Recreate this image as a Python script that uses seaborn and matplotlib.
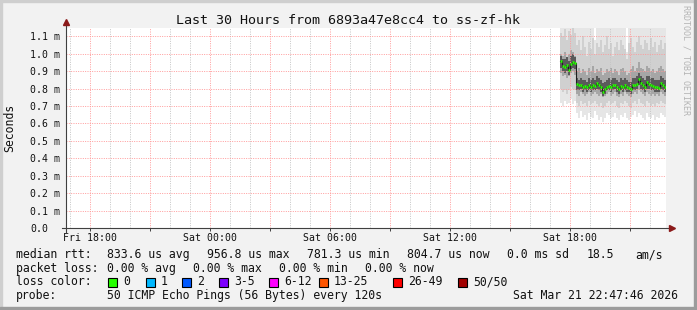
import numpy as np
import pandas as pd
import matplotlib
matplotlib.use("Agg")
import matplotlib.pyplot as plt
import seaborn as sns
from matplotlib.patches import Rectangle
from matplotlib.ticker import FixedLocator, MultipleLocator

# ---------------- data ----------------
title = "Last 30 Hours from 6893a47e8cc4 to ss-zf-hk"
x_start, x_end = 16.796, 46.796          # hours since Fri 00:00 (30 h window)
xtick_hours = [18, 21, 24, 27, 30, 33, 36, 39, 42, 45]
xtick_labels = ["Fri 18:00", "", "Sat 00:00", "", "Sat 06:00", "",
                "Sat 12:00", "", "Sat 18:00", ""]
ytick_vals = [0.0, 0.1, 0.2, 0.3, 0.4, 0.5, 0.6, 0.7, 0.8, 0.9, 1.0, 1.1]
ytick_labels = ["0.0", "0.1 m", "0.2 m", "0.3 m", "0.4 m", "0.5 m", "0.6 m",
                "0.7 m", "0.8 m", "0.9 m", "1.0 m", "1.1 m"]
y_top = 1.148

# sample times (hours), one every 6 minutes from Sat 17:30
times = np.round(np.arange(41.5, 46.85, 0.1), 1)

# median rtt (ms)
median = [0.957, 0.928, 0.922, 0.933, 0.909, 0.941, 0.953, 0.947,
          0.825, 0.818, 0.822, 0.812, 0.815, 0.808, 0.818, 0.812, 0.820, 0.815,
          0.830, 0.822, 0.812, 0.781, 0.798, 0.812, 0.815, 0.808, 0.820, 0.823,
          0.812, 0.795, 0.815, 0.812, 0.818, 0.810, 0.806, 0.795, 0.818, 0.822,
          0.825, 0.858, 0.830, 0.820, 0.812, 0.836, 0.828, 0.818, 0.815, 0.812,
          0.808, 0.805, 0.832, 0.822, 0.812, 0.805]

# smoke bands (ms): outer / middle / inner / core ping spread
hi_out = [1.30, 1.28, 1.31, 1.27, 1.29, 1.30, 1.32, 1.28,
          1.25, 1.22, 1.28, 1.20, 1.24, 1.26, 1.21, 1.27, 1.23, 1.08,
          1.25, 1.22, 1.26, 1.24, 1.20, 1.27, 1.23, 1.25, 1.21, 1.26,
          1.24, 1.22, 1.27, 1.20, 1.25, 1.01, 1.23, 1.26, 1.22, 1.24,
          1.21, 1.27, 1.25, 1.23, 1.26, 1.20, 1.24, 1.22, 1.27, 1.25,
          1.21, 1.23, 1.26, 1.24, 1.22, 1.09]
hi_mid = [1.12, 1.10, 1.14, 1.08, 1.13, 1.11, 1.15, 1.12,
          1.05, 1.08, 1.02, 1.10, 1.04, 0.99, 1.07, 1.03, 1.09, 1.00,
          1.06, 1.04, 1.08, 1.01, 1.05, 1.10, 1.03, 1.06, 0.99, 1.04,
          1.07, 1.02, 1.08, 1.05, 1.03, 0.97, 1.06, 1.09, 1.04, 1.01,
          1.07, 1.10, 1.05, 1.03, 1.08, 1.06, 1.02, 1.09, 1.04, 1.07,
          1.01, 1.05, 1.08, 1.03, 1.06, 0.99]
hi_in = [1.00, 0.99, 1.01, 0.98, 1.00, 1.02, 1.01, 0.99,
         0.90, 0.92, 0.89, 0.91, 0.90, 0.88, 0.92, 0.90, 0.93, 0.89,
         0.91, 0.90, 0.92, 0.88, 0.89, 0.91, 0.90, 0.92, 0.89, 0.91,
         0.90, 0.88, 0.91, 0.92, 0.90, 0.88, 0.89, 0.91, 0.93, 0.90,
         0.92, 0.95, 0.92, 0.91, 0.90, 0.93, 0.92, 0.90, 0.91, 0.89,
         0.90, 0.92, 0.93, 0.91, 0.90, 0.89]
hi_core = [0.99, 0.97, 0.97, 0.98, 0.96, 0.99, 1.00, 0.98,
           0.86, 0.85, 0.86, 0.85, 0.85, 0.84, 0.86, 0.85, 0.86, 0.85,
           0.87, 0.86, 0.85, 0.83, 0.84, 0.85, 0.86, 0.85, 0.86, 0.86,
           0.85, 0.84, 0.86, 0.85, 0.86, 0.85, 0.84, 0.84, 0.86, 0.86,
           0.87, 0.89, 0.87, 0.86, 0.85, 0.87, 0.87, 0.86, 0.86, 0.85,
           0.85, 0.85, 0.87, 0.86, 0.85, 0.85]
lo_core = [0.92, 0.90, 0.89, 0.90, 0.88, 0.91, 0.92, 0.91,
           0.79, 0.79, 0.80, 0.78, 0.79, 0.78, 0.79, 0.78, 0.79, 0.79,
           0.80, 0.79, 0.78, 0.76, 0.77, 0.79, 0.79, 0.78, 0.79, 0.80,
           0.78, 0.77, 0.79, 0.78, 0.79, 0.78, 0.78, 0.77, 0.79, 0.79,
           0.80, 0.82, 0.80, 0.79, 0.78, 0.80, 0.80, 0.79, 0.79, 0.78,
           0.78, 0.78, 0.80, 0.79, 0.78, 0.78]
lo_in = [0.89, 0.87, 0.88, 0.86, 0.87, 0.89, 0.90, 0.88,
         0.77, 0.76, 0.78, 0.77, 0.76, 0.77, 0.78, 0.76, 0.77, 0.78,
         0.77, 0.76, 0.77, 0.75, 0.76, 0.77, 0.78, 0.76, 0.77, 0.78,
         0.76, 0.75, 0.77, 0.76, 0.78, 0.77, 0.76, 0.75, 0.77, 0.78,
         0.77, 0.79, 0.78, 0.77, 0.76, 0.78, 0.77, 0.76, 0.77, 0.76,
         0.77, 0.76, 0.78, 0.77, 0.76, 0.77]
lo_mid = [0.80, 0.78, 0.79, 0.77, 0.79, 0.81, 0.80, 0.79,
          0.72, 0.70, 0.73, 0.71, 0.72, 0.70, 0.73, 0.71, 0.72, 0.73,
          0.71, 0.70, 0.72, 0.69, 0.70, 0.72, 0.73, 0.71, 0.72, 0.73,
          0.70, 0.69, 0.72, 0.71, 0.73, 0.72, 0.70, 0.69, 0.72, 0.73,
          0.71, 0.74, 0.72, 0.71, 0.70, 0.73, 0.72, 0.70, 0.71, 0.70,
          0.72, 0.71, 0.73, 0.72, 0.71, 0.72]
lo_out = [0.72, 0.70, 0.73, 0.71, 0.72, 0.74, 0.71, 0.73,
          0.66, 0.63, 0.67, 0.64, 0.65, 0.62, 0.66, 0.64, 0.63, 0.67,
          0.65, 0.62, 0.64, 0.61, 0.63, 0.66, 0.65, 0.63, 0.64, 0.66,
          0.63, 0.62, 0.65, 0.64, 0.66, 0.63, 0.62, 0.64, 0.65, 0.67,
          0.64, 0.66, 0.65, 0.63, 0.62, 0.66, 0.64, 0.63, 0.65, 0.62,
          0.64, 0.63, 0.66, 0.65, 0.64, 0.66]

rtt_stats = [("833.6", "us avg"), ("956.8", "us max"), ("781.3", "us min"),
             ("804.7", "us now"), ("0.0", "ms sd")]
rtt_ams = "18.5"
loss_stats = [("0.00", "% avg"), ("0.00", "% max"), ("0.00", "% min"), ("0.00", "% now")]
loss_labels = ["0", "1", "2", "3-5", "6-12", "13-25", "26-49", "50/50"]
loss_colors = ["#26ff00", "#00b8ff", "#0059ff", "#7e00ff", "#ff00ff",
               "#ff5500", "#ff0000", "#a10000"]
probe_text = "50 ICMP Echo Pings (56 Bytes) every 120s"
stamp_text = "Sat Mar 21 22:47:46 2026"

df = pd.DataFrame({"t": times, "median": median, "hi_out": hi_out, "hi_mid": hi_mid,
                   "hi_in": hi_in, "hi_core": hi_core, "lo_core": lo_core,
                   "lo_in": lo_in, "lo_mid": lo_mid, "lo_out": lo_out})

# ---------------- figure ----------------
W, H = 697, 310
plt.rcParams["font.family"] = ["DejaVu Sans Mono"]
fig = plt.figure(figsize=(W / 100, H / 100), dpi=100, facecolor="#f2f2f2")
ax = fig.add_axes([66 / W, 82 / H, 600 / W, 200 / H])
ax.set_facecolor("white")

def fx(px):
    return px / W

def fy(py):
    return 1 - py / H

# border
fig.patches.append(Rectangle((0, fy(2)), 1, 2 / H, transform=fig.transFigure, color="#cfcfcf"))
fig.patches.append(Rectangle((0, 0), 2 / W, 1, transform=fig.transFigure, color="#cfcfcf"))
fig.patches.append(Rectangle((fx(694), 0), 3 / W, 1, transform=fig.transFigure, color="#9c9c9c"))
fig.patches.append(Rectangle((0, 0), 1, 3 / H, transform=fig.transFigure, color="#9c9c9c"))

# smoke
ax.fill_between(df["t"], df["lo_out"], df["hi_out"], step="post", color="#e6e6e6", lw=0, zorder=1)
ax.fill_between(df["t"], df["lo_mid"], df["hi_mid"], step="post", color="#d0d0d0", lw=0, zorder=1.1)
ax.fill_between(df["t"], df["lo_in"], df["hi_in"], step="post", color="#a6a6a6", lw=0, zorder=1.2)
ax.fill_between(df["t"], df["lo_core"], df["hi_core"], step="post", color="#5a5a5a", lw=0, zorder=1.3)

# median
sns.lineplot(data=df, x="t", y="median", drawstyle="steps-post", color="#202020",
             lw=0.8, ax=ax, zorder=3)
ax.hlines(df["median"], df["t"], df["t"] + 0.1, color="#26ff00", lw=1.8, zorder=4)

ax.set_xlim(x_start, x_end)
ax.set_ylim(0, y_top)
ax.set_xlabel("")
ax.set_ylabel("")

# grid
ax.xaxis.set_major_locator(FixedLocator(xtick_hours))
ax.set_xticklabels(xtick_labels)
ax.xaxis.set_minor_locator(MultipleLocator(1))
ax.yaxis.set_major_locator(FixedLocator(ytick_vals))
ax.set_yticklabels(ytick_labels)
ax.set_axisbelow(False)
ax.grid(which="major", axis="both", color="#ff9a9a", linestyle=(0, (1, 1.4)), lw=0.7)
ax.grid(which="minor", axis="x", color="#c4c4c4", linestyle=(0, (1, 1.4)), lw=0.7)
for s in ax.spines.values():
    s.set_visible(False)

ax.tick_params(axis="x", which="major", length=2.2, width=0.7, color="#404040",
               direction="out", pad=1.6, labelsize=7.1, labelcolor="#111111")
ax.tick_params(axis="x", which="minor", length=0)
ax.tick_params(axis="y", length=0, pad=25.9, labelsize=7.1, labelcolor="#111111")
for lab in ax.get_yticklabels():
    lab.set_horizontalalignment("left")

# axes lines with arrows
ax.plot([-4 / 600, 1.0067], [0, 0], transform=ax.transAxes, clip_on=False,
        color="#404040", lw=0.8, zorder=5)
ax.plot([0, 0], [-0.02, 1.02], transform=ax.transAxes, clip_on=False,
        color="#404040", lw=0.8, zorder=5)
ax.plot([1.0095], [0], marker=">", ms=4.5, color="#8b1a1a", transform=ax.transAxes,
        clip_on=False, zorder=6)
ax.plot([0], [1.03], marker="^", ms=4.5, color="#8b1a1a", transform=ax.transAxes,
        clip_on=False, zorder=6)

# texts
fig.text(fx(348), fy(24), title, ha="center", va="baseline", fontsize=9.6, color="#111111")
fig.text(fx(10), fy(128), "Seconds", rotation=90, ha="center", va="center",
         fontsize=8.3, color="#111111")
fig.text(fx(686), fy(60), "RRDTOOL / TOBI OETIKER", rotation=270, ha="center",
         va="center", fontsize=6.0, color="#b4b4b4")

fs = 8.3
tc = "#111111"
b1, b2, b3, b4 = 258.3, 271.7, 285.3, 299.0
fig.text(fx(16), fy(b1), "median rtt:", fontsize=fs, va="baseline", color=tc)
for i, (v, u) in enumerate(rtt_stats):
    fig.text(fx(107 + 100 * i), fy(b1), f"{v} {u}", fontsize=fs, va="baseline", color=tc)
fig.text(fx(587), fy(b1), rtt_ams, fontsize=fs, va="baseline", color=tc)
fig.text(fx(635), fy(b1), "am/s", fontsize=fs, va="baseline", color=tc)

fig.text(fx(16), fy(b2), "packet loss:", fontsize=fs, va="baseline", color=tc)
for i, (v, u) in enumerate(loss_stats):
    fig.text(fx(107 + 86 * i), fy(b2), f"{v} {u}", fontsize=fs, va="baseline", color=tc)

fig.text(fx(16), fy(b3), "loss color:", fontsize=fs, va="baseline", color=tc)
box_x = [108, 146, 182, 219, 269, 319, 393, 458]
for bx, lab, col in zip(box_x, loss_labels, loss_colors):
    fig.patches.append(Rectangle((fx(bx), fy(287)), 8.5 / W, 9 / H, transform=fig.transFigure,
                                 facecolor=col, edgecolor="black", lw=0.8))
    fig.text(fx(bx + 15), fy(b3), lab, fontsize=fs, va="baseline", color=tc)

fig.text(fx(16), fy(b4), "probe:", fontsize=fs, va="baseline", color=tc)
fig.text(fx(107), fy(b4), probe_text, fontsize=fs, va="baseline", color=tc)
fig.text(fx(513), fy(b4), stamp_text, fontsize=fs, va="baseline", color=tc)

fig.savefig("out.png", dpi=100, facecolor=fig.get_facecolor())
